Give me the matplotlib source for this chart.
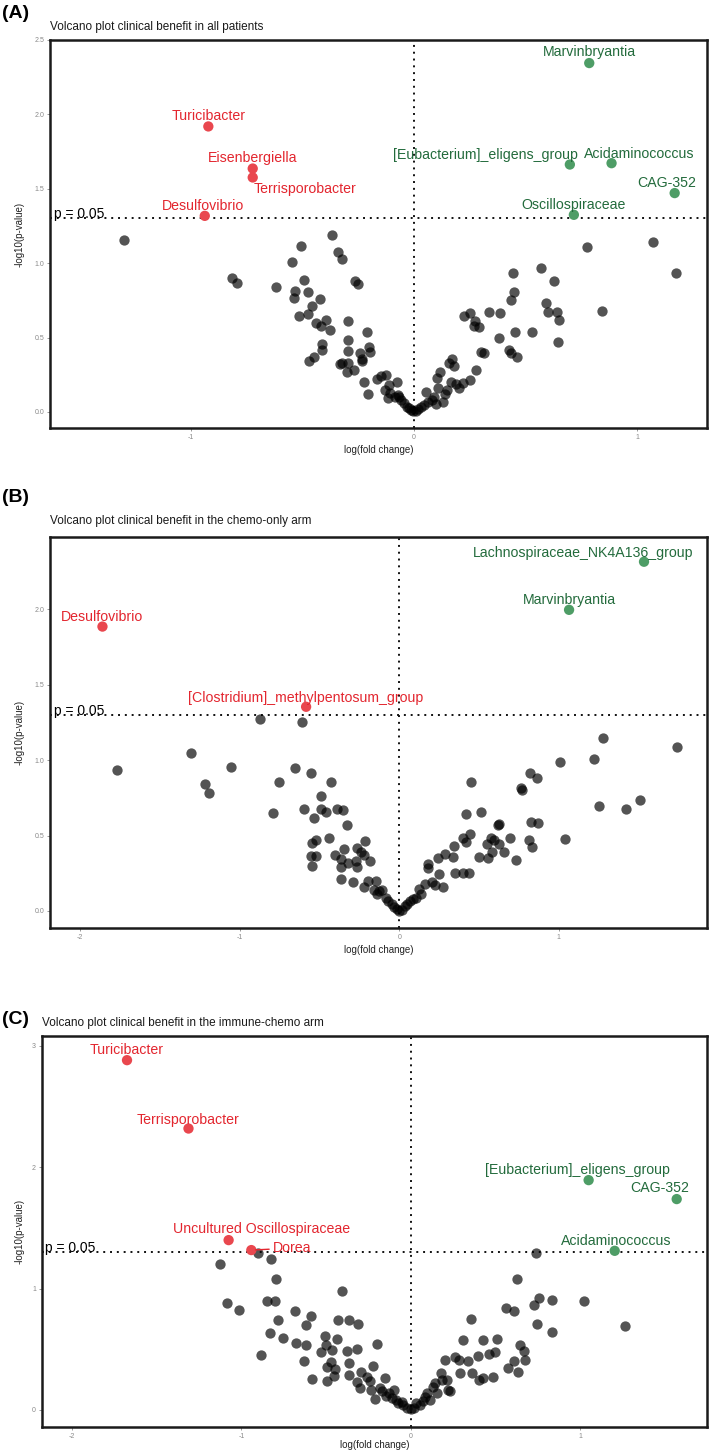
import matplotlib
matplotlib.use("Agg")
import matplotlib.pyplot as plt
import matplotlib.transforms as mtransforms

plt.rcParams["font.family"] = ["Liberation Sans", "DejaVu Sans"]

# ---- panel A: all patients ----
a_x = [-1.30, -0.369, -0.507, -0.342, -0.322, -0.545, -0.815, -0.794, -0.620, -0.492,
       -0.265, -0.249, -0.533, -0.474, -0.539, -0.421, -0.458, -0.517, -0.474, -0.438,
       -0.417, -0.393, -0.375, -0.298, -0.296, -0.211, -0.413, -0.413, -0.448, -0.470,
       -0.294, -0.241, -0.203, -0.195, -0.324, -0.332, -0.296, -0.235, -0.231, -0.302,
       -0.269, -0.225, -0.205, -0.166, -0.148, -0.124, -0.077, -0.130, -0.113, -0.118,
       -0.107, -0.083, -0.073, -0.065, -0.059, -0.043, -0.032, -0.022, -0.012, -0.004,
       0.008, 0.020, 0.032, 0.045, 0.055, 0.065, 0.079, 0.089, 0.099, 0.109,
       0.115, 0.105, 0.130, 0.140, 0.150, 0.158, 0.170, 0.178, 0.166, 0.190,
       0.201, 0.221, 0.251, 0.276, 0.225, 0.251, 0.272, 0.268, 0.292, 0.302,
       0.316, 0.338, 0.385, 0.383, 0.427, 0.433, 0.462, 0.436, 0.450, 0.446,
       0.454, 0.529, 0.571, 0.590, 0.600, 0.630, 0.640, 0.650, 0.648, 0.776,
       0.843, 1.072, 1.177]
a_y = [1.155, 1.186, 1.112, 1.078, 1.029, 1.009, 0.901, 0.865, 0.839, 0.888,
       0.879, 0.857, 0.816, 0.807, 0.765, 0.760, 0.709, 0.648, 0.655, 0.596,
       0.578, 0.617, 0.552, 0.608, 0.484, 0.536, 0.457, 0.417, 0.372, 0.343,
       0.410, 0.395, 0.435, 0.406, 0.332, 0.323, 0.327, 0.339, 0.354, 0.269,
       0.283, 0.202, 0.121, 0.222, 0.242, 0.247, 0.202, 0.148, 0.179, 0.092,
       0.126, 0.103, 0.114, 0.103, 0.081, 0.058, 0.036, 0.025, 0.013, 0.007,
       0.009, 0.018, 0.031, 0.047, 0.137, 0.070, 0.081, 0.103, 0.054, 0.159,
       0.267, 0.226, 0.070, 0.119, 0.148, 0.327, 0.357, 0.309, 0.204, 0.188,
       0.159, 0.193, 0.215, 0.283, 0.646, 0.664, 0.614, 0.578, 0.574, 0.406,
       0.399, 0.675, 0.664, 0.500, 0.413, 0.395, 0.372, 0.751, 0.805, 0.937,
       0.536, 0.534, 0.966, 0.735, 0.675, 0.877, 0.675, 0.619, 0.471, 1.108,
       0.679, 1.141, 0.937]
a_names = ["Turicibacter", "Eisenbergiella", "Terrisporobacter", "Desulfovibrio",
           "Marvinbryantia", "[Eubacterium]_eligens_group", "Acidaminococcus",
           "CAG-352", "Oscillospiraceae"]
a_sx = [-0.922, -0.723, -0.723, -0.938, 0.786, 0.699, 0.886, 1.169, 0.717]
a_sy = [1.919, 1.636, 1.576, 1.318, 2.345, 1.663, 1.672, 1.471, 1.325]
a_up = [False, False, False, False, True, True, True, True, True]

# ---- panel B: chemo-only arm ----
b_x = [-1.771, -1.303, -1.221, -1.193, -1.057, -0.873, -0.612, -0.793, -0.754, -0.652,
       -0.555, -0.598, -0.533, -0.493, -0.490, -0.459, -0.431, -0.391, -0.351, -0.329,
       -0.439, -0.521, -0.550, -0.552, -0.524, -0.547, -0.405, -0.368, -0.368, -0.365,
       -0.346, -0.320, -0.289, -0.272, -0.263, -0.266, -0.238, -0.218, -0.212, -0.184,
       -0.224, -0.198, -0.161, -0.147, -0.142, -0.125, -0.105, -0.085, -0.068, -0.048,
       -0.034, -0.017, 0.000, 0.017, 0.037, 0.051, 0.068, 0.085, 0.108, 0.127,
       0.136, 0.164, 0.178, 0.181, 0.207, 0.227, 0.244, 0.249, 0.275, 0.289,
       0.340, 0.346, 0.348, 0.397, 0.419, 0.439, 0.448, 0.397, 0.419, 0.442,
       0.501, 0.513, 0.550, 0.555, 0.575, 0.581, 0.618, 0.626, 0.595, 0.623,
       0.654, 0.694, 0.731, 0.765, 0.771, 0.816, 0.822, 0.830, 0.827, 0.867,
       0.873, 1.008, 1.037, 1.221, 1.255, 1.278, 1.422, 1.507, 1.742]
b_y = [0.934, 1.046, 0.845, 0.783, 0.954, 1.270, 1.250, 0.648, 0.856, 0.951,
       0.918, 0.673, 0.619, 0.761, 0.679, 0.653, 0.856, 0.673, 0.668, 0.571,
       0.482, 0.469, 0.454, 0.365, 0.365, 0.299, 0.372, 0.343, 0.292, 0.215,
       0.409, 0.321, 0.190, 0.334, 0.292, 0.420, 0.394, 0.372, 0.462, 0.330,
       0.159, 0.197, 0.137, 0.199, 0.111, 0.133, 0.137, 0.088, 0.066, 0.044,
       0.027, 0.011, 0.000, 0.009, 0.033, 0.049, 0.066, 0.077, 0.088, 0.144,
       0.111, 0.177, 0.314, 0.288, 0.192, 0.173, 0.350, 0.243, 0.161, 0.376,
       0.358, 0.429, 0.252, 0.252, 0.642, 0.250, 0.852, 0.487, 0.456, 0.509,
       0.358, 0.659, 0.447, 0.350, 0.482, 0.394, 0.571, 0.580, 0.469, 0.442,
       0.394, 0.482, 0.336, 0.814, 0.805, 0.471, 0.918, 0.425, 0.588, 0.883,
       0.584, 0.987, 0.480, 1.009, 0.699, 1.146, 0.677, 0.739, 1.086]
b_names = ["Desulfovibrio", "[Clostridium]_methylpentosum_group",
           "Lachnospiraceae_NK4A136_group", "Marvinbryantia"]
b_sx = [-1.861, -0.584, 1.535, 1.065]
b_sy = [1.886, 1.354, 2.316, 1.997]
b_up = [False, False, True, True]

# ---- panel C: immune-chemo arm ----
c_x = [-1.128, -1.085, -1.016, -0.901, -0.827, -0.795, -0.883, -0.848, -0.803, -0.829,
       -0.784, -0.752, -0.685, -0.675, -0.619, -0.616, -0.587, -0.627, -0.584, -0.528,
       -0.507, -0.499, -0.496, -0.496, -0.467, -0.472, -0.445, -0.453, -0.435, -0.432,
       -0.403, -0.373, -0.365, -0.363, -0.363, -0.317, -0.309, -0.293, -0.315, -0.299,
       -0.256, -0.243, -0.221, -0.200, -0.237, -0.211, -0.181, -0.168, -0.149, -0.147,
       -0.128, -0.112, -0.096, -0.088, -0.075, -0.053, -0.043, -0.021, 0.000, 0.019,
       0.032, 0.053, 0.072, 0.085, 0.099, 0.112, 0.133, 0.144, 0.155, 0.179,
       0.187, 0.205, 0.213, 0.219, 0.232, 0.264, 0.285, 0.291, 0.312, 0.341,
       0.357, 0.365, 0.400, 0.405, 0.427, 0.427, 0.464, 0.485, 0.499, 0.512,
       0.565, 0.576, 0.611, 0.611, 0.629, 0.632, 0.645, 0.667, 0.677, 0.731,
       0.741, 0.747, 0.760, 0.832, 0.837, 1.024, 1.264]
c_y = [1.200, 0.885, 0.822, 1.293, 1.247, 1.082, 0.452, 0.901, 0.901, 0.633,
       0.745, 0.589, 0.819, 0.551, 0.537, 0.704, 0.775, 0.405, 0.255, 0.479,
       0.608, 0.537, 0.356, 0.241, 0.496, 0.395, 0.334, 0.279, 0.584, 0.745,
       0.978, 0.488, 0.745, 0.389, 0.288, 0.499, 0.707, 0.312, 0.230, 0.178,
       0.274, 0.238, 0.364, 0.540, 0.164, 0.090, 0.178, 0.153, 0.260, 0.115,
       0.137, 0.096, 0.164, 0.082, 0.055, 0.068, 0.038, 0.019, 0.005, 0.014,
       0.055, 0.038, 0.077, 0.110, 0.137, 0.082, 0.192, 0.225, 0.137, 0.307,
       0.247, 0.411, 0.247, 0.164, 0.159, 0.438, 0.411, 0.307, 0.575, 0.405,
       0.751, 0.301, 0.444, 0.247, 0.575, 0.260, 0.458, 0.274, 0.477, 0.586,
       0.841, 0.348, 0.816, 0.400, 1.079, 0.310, 0.537, 0.485, 0.411, 0.868,
       1.293, 0.712, 0.926, 0.644, 0.904, 0.899, 0.690]
c_names = ["Turicibacter", "Terrisporobacter", "Uncultured Oscillospiraceae", "Dorea",
           "[Eubacterium]_eligens_group", "CAG-352", "Acidaminococcus"]
c_sx = [-1.675, -1.312, -1.075, -0.941, 1.051, 1.571, 1.205]
c_sy = [2.881, 2.318, 1.399, 1.317, 1.893, 1.737, 1.311]
c_up = [False, False, False, False, True, True, True]

titles = ["Volcano plot clinical benefit in all patients",
          "Volcano plot clinical benefit in the chemo-only arm",
          "Volcano plot clinical benefit in the immune-chemo arm"]
tags = ["(A)", "(B)", "(C)"]

# label offsets in pixels (dx, dy) from each highlighted point
a_off = [(0, 10), (0, 11), (52, -12), (-2, 10), (0, 11), (-84, 10), (28, 9), (-8, 10), (0, 10)]
b_off = [(0, 10), (0, 9), (-61, 9), (0, 10)]
c_off = [(0, 10), (0, 9), (33, 11), (22, 2), (-11, 10), (-17, 11), (2, 10)]

RED_PT, RED_TX = "#E9474E", "#E3262F"
GRN_PT, GRN_TX = "#4E9D66", "#236B3C"

fig = plt.figure(figsize=(7.09, 14.53), dpi=100)
H = 1453.0
W = 709.0

# axes boxes in pixels: left, top, right, bottom
boxes = [(50, 40, 707, 428), (50, 537, 707, 928), (41.5, 1036, 707, 1427)]
xlims = [(-1.632, 1.314), (-2.19, 1.93), (-2.18, 1.75)]
ylims = [(-0.108, 2.50), (-0.113, 2.48), (-0.14, 3.08)]
yticks = [[0, 0.5, 1.0, 1.5, 2.0, 2.5], [0, 0.5, 1.0, 1.5, 2.0], [0, 1, 2, 3]]
ytlab = [["0.0", "0.5", "1.0", "1.5", "2.0", "2.5"], ["0.0", "0.5", "1.0", "1.5", "2.0"],
         ["0", "1", "2", "3"]]
xticks = [[-1, 0, 1], [-2, -1, 0, 1], [-2, -1, 0, 1]]
tag_y = [13, 497, 1020]
title_y = [27, 521, 1023]
xlab_pad = [3, 3, 0.5]

panels = [(a_x, a_y, a_names, a_sx, a_sy, a_up, a_off),
          (b_x, b_y, b_names, b_sx, b_sy, b_up, b_off),
          (c_x, c_y, c_names, c_sx, c_sy, c_up, c_off)]

for i, (bx, by, names, sx, sy, up, offs) in enumerate(panels):
    l, t, r, b = boxes[i]
    ax = fig.add_axes([l / W, 1 - b / H, (r - l) / W, (b - t) / H])
    ax.set_xlim(*xlims[i])
    ax.set_ylim(*ylims[i])

    ax.axhline(1.301, color="#111111", lw=1.4, ls=(0, (1, 2.5)), zorder=1)
    ax.axvline(0, color="#111111", lw=1.4, ls=(0, (1, 2.5)), zorder=1)

    ax.scatter(bx, by, s=55, color="black", alpha=0.67, linewidths=0, zorder=2)
    pcol = [GRN_PT if u else RED_PT for u in up]
    ax.scatter(sx, sy, s=55, color=pcol, linewidths=0, zorder=3)

    for name, x, y, u, (dx, dy) in zip(names, sx, sy, up, offs):
        tcol = GRN_TX if u else RED_TX
        if name == "Dorea":
            ax.annotate(name, (x, y), xytext=(dx * 0.72, dy * 0.72), textcoords="offset points",
                        ha="left", va="center", fontsize=10.2, color=tcol,
                        arrowprops=dict(arrowstyle="-", color=tcol, lw=1.0, shrinkA=1, shrinkB=3))
        else:
            ax.annotate(name, (x, y), xytext=(dx * 0.72, dy * 0.72), textcoords="offset points",
                        ha="center", va="center", fontsize=10.2, color=tcol)

    trans = mtransforms.blended_transform_factory(ax.transAxes, ax.transData)
    ax.text(0.006, 1.301, "p = 0.05", transform=trans, ha="left", va="baseline",
            fontsize=10, color="black")

    ax.set_xticks(xticks[i])
    ax.set_xticklabels([str(v) for v in xticks[i]])
    ax.set_yticks(yticks[i])
    ax.set_yticklabels(ytlab[i])
    ax.tick_params(axis="both", length=2, width=0.6, color="#888888", labelsize=5,
                   labelcolor="#8a8a8a", pad=2)
    for sp in ax.spines.values():
        sp.set_linewidth(1.8)
        sp.set_color("#1a1a1a")

    ax.set_xlabel("log(fold change)", fontsize=7, color="#222222", labelpad=xlab_pad[i])
    ax.set_ylabel("-log10(p-value)", fontsize=7, color="#222222")
    ax.yaxis.set_label_coords((25 - l) / (r - l), 0.5)

    fig.text(2 / W, 1 - tag_y[i] / H, tags[i], fontsize=14, fontweight="bold",
             ha="left", va="center")
    fig.text(l / W, 1 - title_y[i] / H, titles[i], fontsize=8.5, ha="left", va="center",
             color="#1a1a1a")

fig.savefig("out.png", dpi=100)
